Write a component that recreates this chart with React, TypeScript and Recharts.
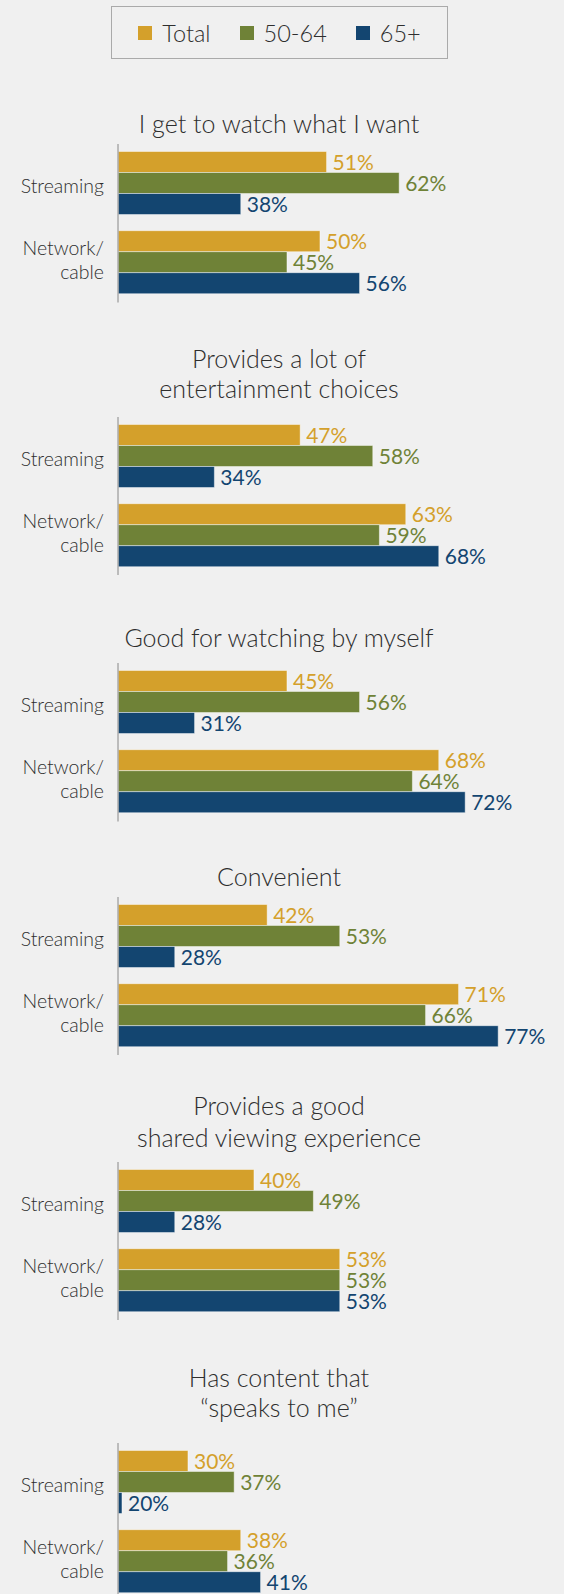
import { BarChart, Bar, XAxis, YAxis, LabelList } from "recharts";

const categories = ["Streaming", "Network/\ncable"];

const titles = [
  ["I get to watch what I want"],
  ["Provides a lot of", "entertainment choices"],
  ["Good for watching by myself"],
  ["Convenient"],
  ["Provides a good", "shared viewing experience"],
  ["Has content that", "\u201cspeaks to me\u201d"],
];

// [streaming, network/cable] per panel
const totalValues = [[51, 50], [47, 63], [45, 68], [42, 71], [40, 53], [30, 38]];
const age5064Values = [[62, 45], [58, 59], [56, 64], [53, 66], [49, 53], [37, 36]];
const age65Values = [[38, 56], [34, 68], [31, 72], [28, 77], [28, 53], [20, 41]];

const SERIES = [
  { key: "total", name: "Total", color: "#D4A02B", values: totalValues },
  { key: "age5064", name: "50-64", color: "#6F8237", values: age5064Values },
  { key: "age65", name: "65+", color: "#134570", values: age65Values },
];

// layout: plot top and title line centres for each panel
const PLOT_TOP = [144.2, 416.9, 663.4, 897.1, 1161.7, 1442.9];
const TITLE_Y = [[123], [358, 388], [637], [876], [1105, 1137], [1377, 1407]];
const PLOT_H = 158.4;
const FONT = "Lato, 'Open Sans', sans-serif";
const LIGHT = 300;
const TEXT = "#2e2e2e";

function CategoryTick({ x, y, payload }: any) {
  const lines = String(payload.value).split("\n");
  const first = lines.length === 1 ? 9.5 : -8;
  return (
    <text x={x} y={y} textAnchor="end" fill={TEXT} fontSize={19.5} fontFamily={FONT} fontWeight={LIGHT}>
      {lines.map((l, i) => (
        <tspan key={i} x={x} y={y + first + i * 24.3}>
          {l}
        </tspan>
      ))}
    </text>
  );
}

const valueLabel = (color: string) => (props: any) => {
  const { x, y, width, height, value } = props;
  return (
    <text x={x + width + 6} y={y + height / 2 + 8} fill={color} fontSize={21} fontFamily={FONT}>
      {value}%
    </text>
  );
};

function Panel({ index }: { index: number }) {
  const data = categories.map((c, i) => {
    const row: any = { category: c };
    SERIES.forEach((s) => (row[s.key] = s.values[index][i]));
    return row;
  });
  const top = PLOT_TOP[index];
  return (
    <>
      {titles[index].map((t, i) => (
        <div
          key={i}
          style={{
            position: "absolute",
            left: 79,
            width: 400,
            top: TITLE_Y[index][i] - 15,
            height: 30,
            lineHeight: "30px",
            textAlign: "center",
            fontSize: 25,
            fontFamily: FONT,
            fontWeight: LIGHT,
            color: TEXT,
            whiteSpace: "nowrap",
          }}
        >
          {t}
        </div>
      ))}
      <div style={{ position: "absolute", left: 0, top: top }}>
        <BarChart
          width={564}
          height={PLOT_H}
          data={data}
          layout="vertical"
          margin={{ top: 0, right: 13, bottom: 0, left: 0 }}
          barCategoryGap={7.5}
          barGap={0}
        >
          <XAxis type="number" domain={[19.4, 85]} hide />
          <YAxis
            type="category"
            dataKey="category"
            width={118}
            tickSize={0}
            tickMargin={14}
            tickLine={false}
            axisLine={{ stroke: "#aaaaaa", strokeWidth: 1.5 }}
            tick={<CategoryTick />}
            interval={0}
          />
          {SERIES.map((s) => (
            <Bar
              key={s.key}
              dataKey={s.key}
              name={s.name}
              fill={s.color}
              stroke="#ffffff"
              strokeOpacity={0.45}
              strokeWidth={1}
              isAnimationActive={false}
            >
              <LabelList dataKey={s.key} content={valueLabel(s.color)} />
            </Bar>
          ))}
        </BarChart>
      </div>
    </>
  );
}

export default function App() {
  return (
    <div
      style={{
        position: "absolute",
        left: 0,
        top: 0,
        width: 564,
        height: 1594,
        background: "#f0f0f0",
        overflow: "hidden",
      }}
    >
      <div
        style={{
          position: "absolute",
          left: 111,
          top: 6,
          width: 335,
          height: 51,
          border: "1px solid #aaaaaa",
          display: "flex",
          alignItems: "center",
          justifyContent: "center",
          gap: 29,
          fontFamily: FONT,
          fontWeight: LIGHT,
          fontSize: 23.5,
          color: TEXT,
        }}
      >
        {SERIES.map((s) => (
          <div key={s.key} style={{ display: "flex", alignItems: "center", gap: 10 }}>
            <span style={{ display: "inline-block", width: 14, height: 14, background: s.color }} />
            <span>{s.name}</span>
          </div>
        ))}
      </div>
      {titles.map((_, i) => (
        <Panel key={i} index={i} />
      ))}
    </div>
  );
}
